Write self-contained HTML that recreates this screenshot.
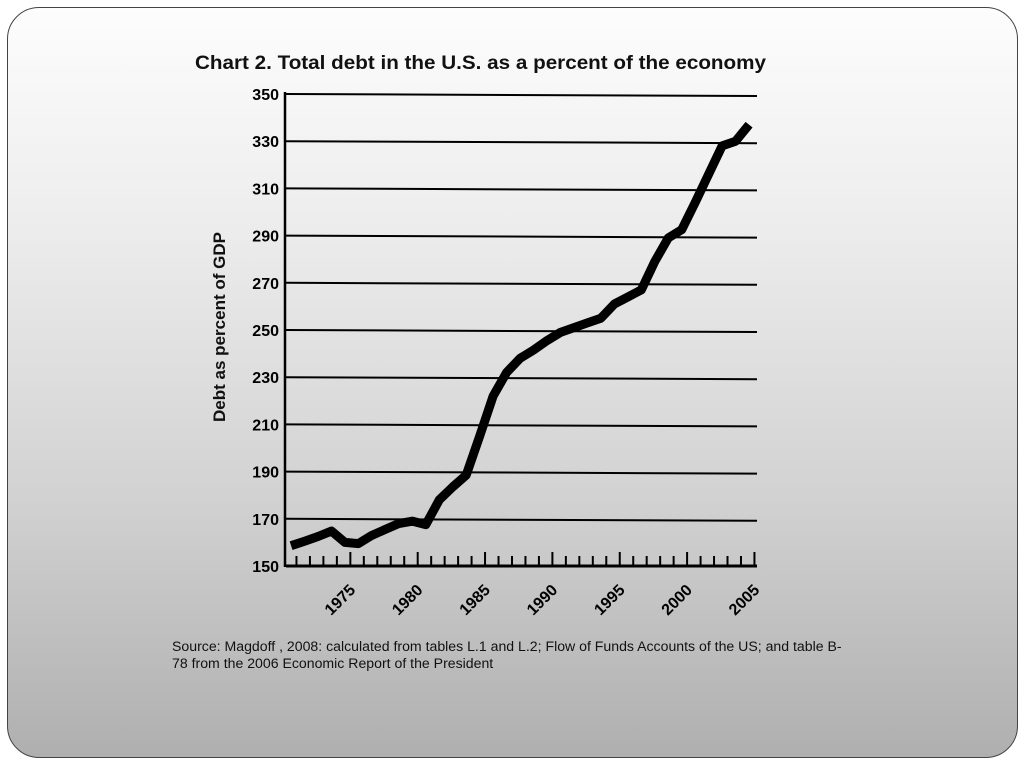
<!DOCTYPE html>
<html><head><meta charset="utf-8"><style>
html,body{margin:0;padding:0;width:1024px;height:768px;background:#fff;overflow:hidden;}
#slide{position:absolute;left:7px;top:7px;width:1009px;height:749px;border:1px solid #444;border-radius:32px;background:linear-gradient(#fdfdfd 0%,#ececec 30%,#d2d2d2 65%,#afafaf 100%);}
svg{position:absolute;left:0;top:0;}
#source{position:absolute;left:172px;top:638px;width:700px;font:14.1px "Liberation Sans",sans-serif;color:#111;line-height:17px;white-space:nowrap;}
</style></head><body>
<div id="slide"></div>
<svg width="1024" height="768">
<text x="195" y="69" textLength="571" lengthAdjust="spacingAndGlyphs" font-family="Liberation Sans,sans-serif" font-weight="bold" font-size="19.5" fill="#111">Chart 2. Total debt in the U.S. as a percent of the economy</text>
<text transform="translate(225,327) rotate(-90)" text-anchor="middle" textLength="190" lengthAdjust="spacingAndGlyphs" font-family="Liberation Sans,sans-serif" font-weight="bold" font-size="16.5" fill="#111">Debt as percent of GDP</text>
<g id="grid"></g><g id="ticks"></g><g id="labels"></g>
<polyline id="line" fill="none" stroke="#000" stroke-width="9" stroke-linejoin="round"/>
</svg>
<div id="source">Source: Magdoff , 2008: calculated from tables L.1 and L.2; Flow of Funds Accounts of the US; and table B-<br>78 from the 2006 Economic Report of the President</div>
<script>
const years=[1971,1972,1973,1974,1975,1976,1977,1978,1979,1980,1981,1982,1983,1984,1985,1986,1987,1988,1989,1990,1991,1992,1993,1994,1995,1996,1997,1998,1999,2000,2001,2002,2003,2004,2005];
const debt=[158.6,160.5,162.5,164.8,160,159.5,163,165.5,168,169,167.5,178,183.5,188.5,205,222,232,238,241.5,245.5,249,251,253,255,261,264,267,279,289,292.5,304,316,328,330,337];
const yTicks=[150,170,190,210,230,250,270,290,310,330,350];
const xLabels=[1975,1980,1985,1990,1995,2000,2005];
const NS='http://www.w3.org/2000/svg';
function xs(y){return 283+(y-1970)*13.47;}
function ys(v){return 566-(v-150)*2.36;}
const grid=document.getElementById('grid'),ticks=document.getElementById('ticks'),labels=document.getElementById('labels');
yTicks.forEach(v=>{
  const l=document.createElementNS(NS,'line');
  
  
  l.setAttribute('x1',286);l.setAttribute('x2',757);
  l.setAttribute('y1',ys(v));l.setAttribute('y2',ys(v)+(v===150?0:2));
  l.setAttribute('stroke','#000');l.setAttribute('stroke-width',v===150?3:2);
  grid.appendChild(l);
  const t=document.createElementNS(NS,'text');
  
  
  t.setAttribute('x',279);t.setAttribute('y',ys(v)+6);t.setAttribute('text-anchor','end');
  t.setAttribute('font-family','Liberation Sans,sans-serif');t.setAttribute('font-weight','bold');t.setAttribute('font-size','16');
  t.textContent=v;labels.appendChild(t);
});
const ax=document.createElementNS(NS,'line');


ax.setAttribute('x1',285);ax.setAttribute('x2',285);ax.setAttribute('y1',92);ax.setAttribute('y2',567);
ax.setAttribute('stroke','#000');ax.setAttribute('stroke-width',2.5);grid.appendChild(ax);
for(let y=1971;y<=2005;y++){
  const major=y%5===0;
  const l=document.createElementNS(NS,'line');
  
  
  l.setAttribute('x1',xs(y));l.setAttribute('x2',xs(y));
  l.setAttribute('y1',major?552:556);l.setAttribute('y2',566);
  l.setAttribute('stroke','#000');l.setAttribute('stroke-width',2);ticks.appendChild(l);
}
xLabels.forEach(y=>{
  const t=document.createElementNS(NS,'text');
  
  
  t.setAttribute('transform',`translate(${xs(y)+6},${591}) rotate(-45)`);
  t.setAttribute('text-anchor','end');
  t.setAttribute('font-family','Liberation Sans,sans-serif');t.setAttribute('font-weight','bold');t.setAttribute('font-size','16');
  t.textContent=y;labels.appendChild(t);
});
document.getElementById('line').setAttribute('points',years.map((y,i)=>xs(y-0.4)+','+ys(debt[i])).join(' '));
</script>
</body></html>
